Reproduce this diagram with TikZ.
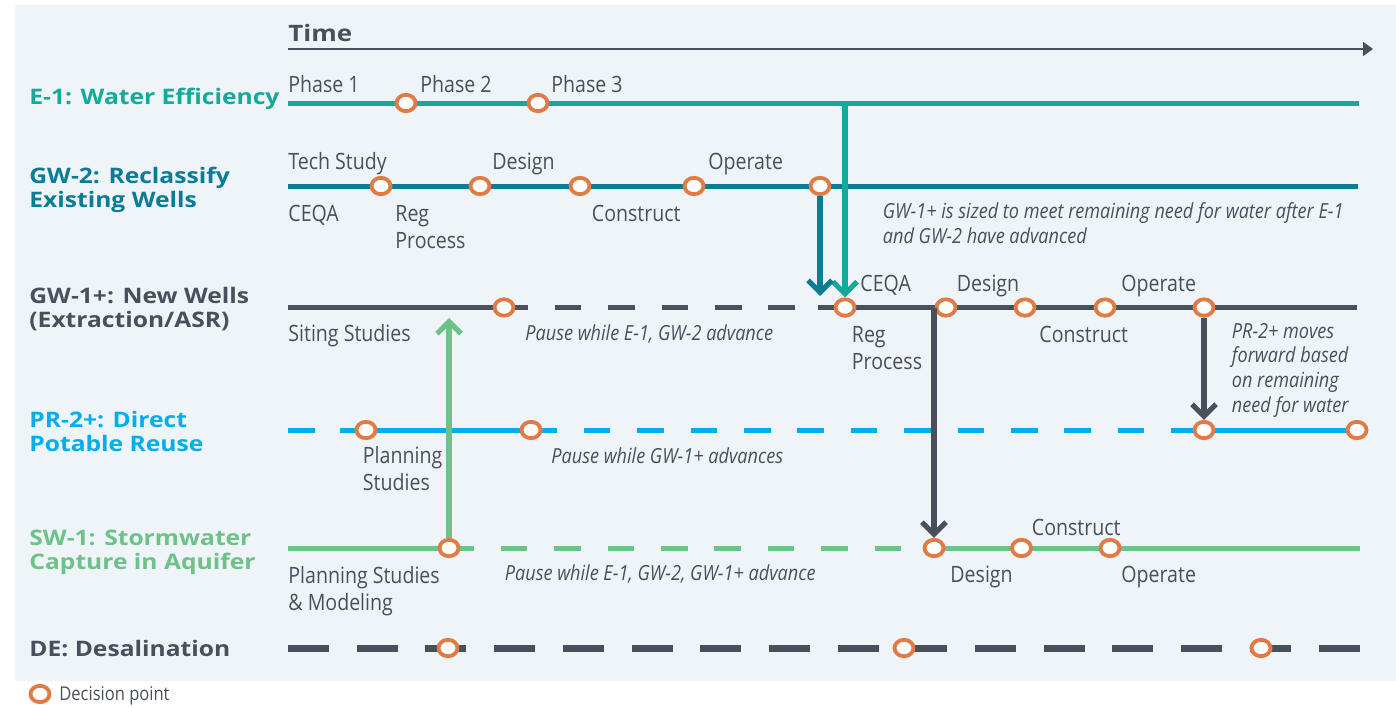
\documentclass[tikz,border=0pt]{standalone}
\usepackage{fontspec}
\setmainfont{Open Sans}
\newfontfamily\labelfont[FakeStretch=1.15]{Open Sans}
\newfontfamily\condfont[FakeStretch=0.87]{Open Sans}
\usetikzlibrary{arrows.meta,shapes.geometric}

\definecolor{panel}{RGB}{238,244,248}
\definecolor{ink}{RGB}{73,80,91}
\definecolor{effteal}{RGB}{22,168,152}
\definecolor{wellblue}{RGB}{10,124,150}
\definecolor{reuseblue}{RGB}{0,174,239}
\definecolor{stormgreen}{RGB}{108,194,135}
\definecolor{decorange}{RGB}{224,123,69}

\begin{document}
\begin{tikzpicture}[x=0.5pt,y=-0.5pt,
  track/.style={line width=2.5pt},
  pause/.style={dash pattern=on 13.35pt off 13.35pt},
  gapfirst/.style={dash phase=13.35pt},
  desal/.style={line width=3.5pt,dash pattern=on 20.5pt off 13.85pt},
  dp/.style={ellipse,draw=decorange,fill=white,line width=1.9pt,minimum width=9.5pt,minimum height=8.2pt,inner sep=0pt},
  lane/.style={font=\labelfont\bfseries\fontsize{10.7}{12}\selectfont,anchor=base west,inner sep=0pt,align=left},
  stage/.style={font=\condfont\fontsize{11.25}{13.4}\selectfont,text=ink,anchor=base west,inner sep=0pt,align=left},
  note/.style={font=\condfont\itshape\fontsize{10.4}{12.3}\selectfont,text=ink,anchor=base west,inner sep=0pt,align=left},
  drop/.style={line width=2.6pt,-{Straight Barb[length=6pt,width=12pt]}}]

  \useasboundingbox (0,0) rectangle (1396,707);
  \fill[panel] (15,5) rectangle (1396,681);

  % time axis
  \node[font=\labelfont\bfseries\fontsize{11.3}{13}\selectfont,text=ink,anchor=base west,inner sep=0pt] (time) at (288,41) {Time};
  \coordinate (t0) at (288,49); \coordinate (t1) at (1373,49);
  \draw[ink,line width=1pt,-{Triangle[length=5pt,width=7pt]}] (t0) -- (t1);

  % tracks, solid while running, dashed while paused
  \draw[track,effteal] (288,103) -- (1359,103);
  \draw[track,wellblue] (288,186) -- (1358,186);
  \draw[track,ink] (288,307.5) -- (528,307.5);
  \draw[track,ink,pause,gapfirst] (528,307.5) -- (818,307.5);
  \draw[track,ink] (818,307.5) -- (1357,307.5);
  \draw[track,reuseblue,pause] (288,430) -- (340,430);
  \draw[track,reuseblue] (340,430) -- (557,430);
  \draw[track,reuseblue,pause,gapfirst] (557,430) -- (1171,430);
  \draw[track,reuseblue] (1171,430) -- (1357,430);
  \draw[track,stormgreen] (288,548) -- (474,548);
  \draw[track,stormgreen,pause,gapfirst] (474,548) -- (928,548);
  \draw[track,stormgreen] (928,548) -- (1360,548);
  \draw[desal,ink] (288,648) -- (1360,648);

  % decision points
  \node[dp] (e1a) at (406,103) {}; \node[dp] (e1b) at (538,103) {};
  \node[dp] (gw2a) at (381,186) {}; \node[dp] (gw2b) at (480,186) {};
  \node[dp] (gw2c) at (580,186) {}; \node[dp] (gw2d) at (694,186) {};
  \node[dp] (gw2e) at (820,186) {};
  \node[dp] (gw1a) at (504,307.5) {}; \node[dp] (gw1b) at (845,307.5) {};
  \node[dp] (gw1c) at (946,307.5) {}; \node[dp] (gw1d) at (1025,307.5) {};
  \node[dp] (gw1e) at (1105,307.5) {}; \node[dp] (gw1f) at (1204,307.5) {};
  \node[dp] (pr2a) at (366,430) {}; \node[dp] (pr2b) at (531,430) {};
  \node[dp] (pr2c) at (1204,430) {}; \node[dp] (pr2d) at (1357,430) {};
  \node[dp] (sw1a) at (449,548) {}; \node[dp] (sw1b) at (934,548) {};
  \node[dp] (sw1c) at (1021.5,548) {}; \node[dp] (sw1d) at (1110,548) {};
  \node[dp] (dea) at (448,648) {}; \node[dp] (deb) at (904,648) {};
  \node[dp] (dec) at (1261,648) {};

  % lane names (two-line nodes sit on their last baseline)
  \node[lane,text=effteal] (e1) at (29,104) {E-1: Water Efficiency};
  \node[lane,text=wellblue] (gw2) at (29,207) {GW-2: Reclassify\\Existing Wells};
  \node[lane,text=ink] (gw1) at (29,327) {GW-1+: New Wells\\(Extraction/ASR)};
  \node[lane,text=reuseblue] (pr2) at (29,451) {PR-2+: Direct\\Potable Reuse};
  \node[lane,text=stormgreen] (sw1) at (29,569) {SW-1: Stormwater\\Capture in Aquifer};
  \node[lane,text=ink] (de) at (29,656) {DE: Desalination};

  % stage labels
  \node[stage] (ph1) at (288,92) {Phase 1};
  \node[stage] (ph2) at (420,92) {Phase 2};
  \node[stage] (ph3) at (551,92) {Phase 3};
  \node[stage] (gw2tech) at (288,169) {Tech Study};
  \node[stage] (gw2des) at (492,169) {Design};
  \node[stage] (gw2op) at (708,169) {Operate};
  \node[stage] (gw2ceqa) at (288,221) {CEQA};
  \node[stage] (gw2reg) at (395,248) {Reg\\Process};
  \node[stage] (gw2con) at (591.5,221) {Construct};
  \node[stage] (gw1site) at (288,341) {Siting Studies};
  \node[stage] (gw1ceqa) at (860,291) {CEQA};
  \node[stage] (gw1des) at (956.5,291) {Design};
  \node[stage] (gw1op) at (1121,291) {Operate};
  \node[stage] (gw1reg) at (851.5,369) {Reg\\Process};
  \node[stage] (gw1con) at (1039,342) {Construct};
  \node[stage] (pr2plan) at (362.5,490) {Planning\\Studies};
  \node[stage] (sw1plan) at (288,610) {Planning Studies\\\& Modeling};
  \node[stage] (sw1con) at (1031.5,535) {Construct};
  \node[stage] (sw1des) at (950,582) {Design};
  \node[stage] (sw1op) at (1121,582) {Operate};

  % notes
  \node[note] (sizenote) at (882.5,243) {GW-1+ is sized to meet remaining need for water after E-1\\and GW-2 have advanced};
  \node[note] (gw1pause) at (525,340) {Pause while E-1, GW-2 advance};
  \node[note] (pr2note) at (1231.5,412) {PR-2+ moves\\forward based\\on remaining\\need for water};
  \node[note] (pr2pause) at (551,463) {Pause while GW-1+ advances};
  \node[note] (sw1pause) at (504.5,580) {Pause while E-1, GW-2, GW-1+ advance};

  % hand-offs between tracks
  \coordinate (e1drop) at (845,103);
  \coordinate (gw2stop) at (820,296);
  \coordinate (sw1stop) at (449,318);
  \coordinate (gw1drop) at (934,307.5);
  \draw[drop,effteal] (e1drop) -- (gw1b);
  \draw[drop,wellblue] (gw2e) -- (gw2stop);
  \draw[drop,stormgreen] (sw1a) -- (sw1stop);
  \draw[drop,ink] (gw1drop) -- (sw1b);
  \draw[drop,ink] (gw1f) -- (pr2c);

  % key
  \node[dp] (key) at (40,694) {};
  \node[stage,font=\condfont\fontsize{9.5}{11}\selectfont] (keytext) at (59,700) {Decision point};
\end{tikzpicture}
\end{document}
